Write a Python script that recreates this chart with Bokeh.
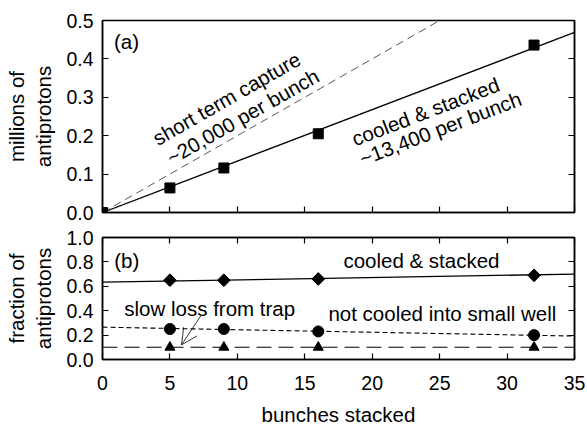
import math
from bokeh.plotting import figure
from bokeh.models import (Range1d, LinearAxis, FixedTicker, PrintfTickFormatter,
                          ColumnDataSource, Arrow, OpenHead)
from bokeh.layouts import column
from bokeh.core.properties import value
from bokeh.embed import file_html
from bokeh.resources import INLINE

# ---- data ----
bunches = [0, 5, 9, 16, 32]
stacked_millions = [0.0, 0.064, 0.116, 0.205, 0.436]

fit_x = [0, 35]
stacked_fit = [0.0, 0.469]          # ~13,400 per bunch
capture_x = [0, 25]
capture_fit = [0.0, 0.5]            # ~20,000 per bunch

frac_x = [5, 9, 16, 32]
frac_stacked = [0.65, 0.65, 0.66, 0.69]
frac_not_cooled = [0.25, 0.25, 0.23, 0.20]
frac_slow_loss = [0.10, 0.10, 0.10, 0.10]

frac_stacked_fit = [0.634, 0.70]
frac_not_cooled_fit = [0.265, 0.192]
frac_slow_loss_fit = [0.10, 0.10]

x_ticks = [0, 5, 10, 15, 20, 25, 30, 35]
y_ticks_top = [0.0, 0.1, 0.2, 0.3, 0.4, 0.5]
y_ticks_bot = [0.0, 0.2, 0.4, 0.6, 0.8, 1.0]

FONT = "Liberation Sans"
TICK_FS = "19.5px"
LABEL_FS = "20.5px"


def style_axis(ax, ticks, fmt, labels=True):
    ax.ticker = FixedTicker(ticks=ticks)
    ax.formatter = PrintfTickFormatter(format=fmt)
    ax.major_tick_in = 6
    ax.major_tick_out = 0
    ax.minor_tick_line_color = None
    ax.axis_line_color = "black"
    ax.axis_line_width = 1.5
    ax.major_tick_line_color = "black"
    ax.major_tick_line_width = 1.2
    ax.major_label_text_font = FONT
    ax.major_label_text_color = "black"
    ax.axis_label_text_color = "black"
    ax.axis_label_text_font = FONT
    ax.axis_label_text_font_size = LABEL_FS
    ax.axis_label_text_font_style = "normal"
    if labels:
        ax.major_label_text_font_size = TICK_FS
    else:
        ax.major_label_overrides = {t: "" for t in ticks}
        ax.major_label_text_font_size = "1px"
        ax.major_label_standoff = 0


def base_fig(y0, y1, fh, top_b, bot_b):
    p = figure(frame_width=472, frame_height=fh,
               x_range=Range1d(0, 35), y_range=Range1d(y0, y1),
               output_backend="svg", toolbar_location=None,
               min_border_left=102, min_border_right=13,
               min_border_top=top_b, min_border_bottom=bot_b,
               background_fill_color="white", border_fill_color="white")
    p.xgrid.visible = False
    p.ygrid.visible = False
    p.outline_line_color = "black"
    p.outline_line_width = 1.5
    return p


def add_text(p, x, y, t, angle=0.0):
    p.text(x=[x], y=[y], text=[t], angle=angle,
           text_font=value(FONT), text_font_size=LABEL_FS, text_color="black",
           text_align="center", text_baseline="middle")


# ---------- top panel (a) ----------
top = base_fig(0, 0.5, 192, 20, 13)
style_axis(top.xaxis[0], x_ticks, "%d", labels=False)
style_axis(top.yaxis[0], y_ticks_top, "%.1f")
top.yaxis[0].major_label_standoff = 9
top.yaxis[0].axis_label = "millions of\nantiprotons"
top.yaxis[0].axis_label_standoff = 8
rax = LinearAxis()
style_axis(rax, y_ticks_top, "%.1f", labels=False)
top.add_layout(rax, "right")

top.line(capture_x, capture_fit, line_color="#555555", line_width=1.0, line_dash="8 5")
top.line(fit_x, stacked_fit, line_color="black", line_width=1.3)
top.scatter(bunches, stacked_millions, marker="square", size=10, color="black")

add_text(top, 1.78, 0.445, "(a)")
a1 = math.radians(29.7)
add_text(top, 9.2, 0.297, "short term capture", a1)
add_text(top, 10.4, 0.25, "~20,000 per bunch", a1)
a2 = math.radians(21)
add_text(top, 23.95, 0.263, "cooled & stacked", a2)
add_text(top, 25.05, 0.219, "~13,400 per bunch", a2)

# ---------- bottom panel (b) ----------
bot = base_fig(0, 1.0, 122, 12, 60)
style_axis(bot.xaxis[0], x_ticks, "%d")
bot.xaxis[0].major_label_standoff = 16
bot.xaxis[0].axis_label = "bunches stacked"
bot.xaxis[0].axis_label_standoff = 10
style_axis(bot.yaxis[0], y_ticks_bot, "%.1f")
bot.yaxis[0].major_label_standoff = 9
bot.yaxis[0].axis_label = "fraction of\nantiprotons"
bot.yaxis[0].axis_label_standoff = 8
rax2 = LinearAxis()
style_axis(rax2, y_ticks_bot, "%.1f", labels=False)
bot.add_layout(rax2, "right")
tax2 = LinearAxis()
style_axis(tax2, x_ticks, "%d", labels=False)
bot.add_layout(tax2, "above")

bot.line(fit_x, frac_stacked_fit, line_color="black", line_width=1.3)
bot.line(fit_x, frac_not_cooled_fit, line_color="black", line_width=1.1, line_dash="5 3")
bot.line(fit_x, frac_slow_loss_fit, line_color="black", line_width=1.1, line_dash="15 7")
bot.scatter(frac_x, frac_stacked, marker="square", angle=math.pi / 4, size=9, color="black")
bot.scatter(frac_x, frac_not_cooled, marker="circle", size=11, color="black")
bot.scatter(frac_x, frac_slow_loss, marker="triangle", size=10, color="black")

bot.add_layout(Arrow(end=OpenHead(size=16, line_width=0.8, line_color="black"),
                     x_start=7.3, y_start=0.36, x_end=5.86, y_end=0.12,
                     line_width=0.8, line_color="black"))

add_text(bot, 1.8, 0.81, "(b)")
add_text(bot, 23.65, 0.81, "cooled & stacked")
add_text(bot, 25.2, 0.377, "not cooled into small well")
add_text(bot, 7.95, 0.418, "slow loss from trap")

layout = column(top, bot, spacing=0)
open("out.html", "w").write(file_html(layout, INLINE))
